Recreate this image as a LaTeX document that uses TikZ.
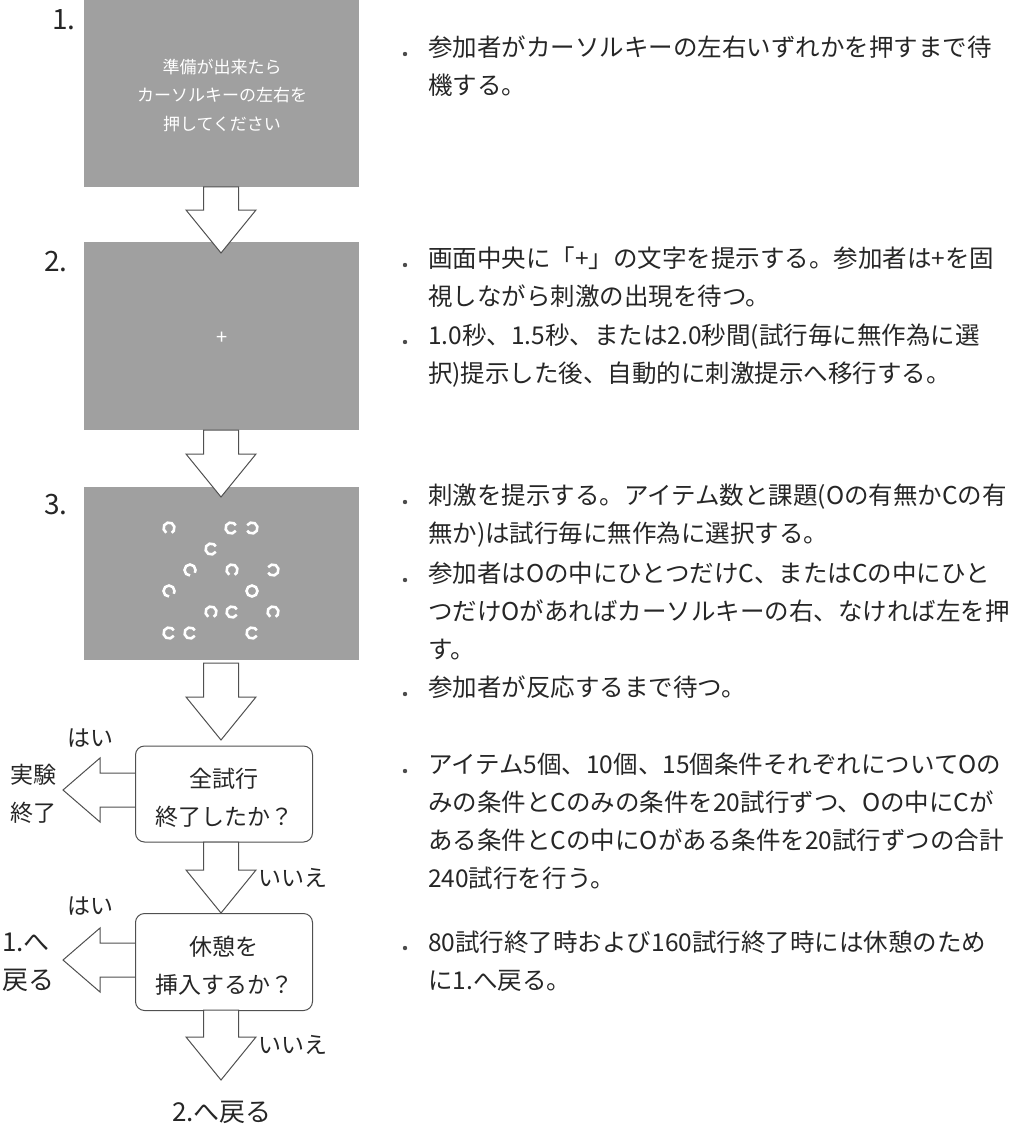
\documentclass[tikz,border=0pt]{standalone}
\usepackage{fontspec}
\setmainfont{Noto Sans CJK JP}
\definecolor{panel}{HTML}{A0A0A0}
\definecolor{edge}{HTML}{505050}
\def\dArrow#1#2#3{\filldraw[arr] (#1-17.5,#2)--(#1+17.5,#2)--(#1+17.5,#3-43)--(#1+35,#3-43)--(#1,#3)--(#1-35,#3-43)--(#1-17.5,#3-43)--cycle;}
\def\lArrow#1#2#3{\filldraw[arr] (#2,#1-17)--(#2,#1+17)--(#3+37,#1+17)--(#3+37,#1+32)--(#3,#1)--(#3+37,#1-32)--(#3+37,#1-17)--cycle;}
\def\ring#1#2#3{\draw[ringst] ($(#1,#2)+(#3+30:5.5)$) arc[start angle=#3+30, end angle=#3+330, radius=5.5];}
\def\oring#1#2{\draw[ringst] (#1,#2) circle[radius=5.5];}
\usetikzlibrary{calc}
\begin{document}
\begin{tikzpicture}[x=1pt,y=-1pt,
  arr/.style={fill=white,draw=edge,line width=1pt,line join=miter},
  panelst/.style={fill=panel,draw=none},
  ringst/.style={draw=white,line width=2.6pt},
  num/.style={font=\fontsize{28}{30}\selectfont,text=black!85},
  ptxt/.style={text=white,font=\fontsize{17}{28.5}\selectfont,align=center},
  dbox/.style={draw=edge,line width=1pt,rounded corners=9pt,fill=white},
  lab/.style={font=\fontsize{23}{38}\selectfont,text=black!85,align=center},
  desc/.style={anchor=north west,font=\fontsize{24.5}{38}\selectfont,text=black!85,align=left,inner sep=0pt}]
\useasboundingbox (0,0) rectangle (1024,1126);
% panels
\fill[panelst] (84,0) rectangle (359,187);
\fill[panelst] (84,242) rectangle (359,430);
\fill[panelst] (84,487) rectangle (359,660);
\node[num] (n1) at (64,20) {1.};
\node[num] (n2) at (56,262) {2.};
\node[num] (n3) at (56,505) {3.};
\node[ptxt] (p1) at (222,95) {準備が出来たら\\カーソルキーの左右を\\押してください};
\node[text=white,font=\fontsize{20}{24}\selectfont] (plus) at (222,338) {+};
% stimuli
\ring{169}{528}{90}
\ring{231}{528}{0}
\ring{252}{528}{180}
\ring{211}{549}{0}
\ring{190}{570}{60}
\ring{232}{570}{90}
\ring{273}{570}{180}
\ring{169}{591}{60}
\oring{252}{591}
\ring{211}{612}{90}
\ring{232}{612}{0}
\ring{273}{612}{90}
\ring{169}{633}{0}
\ring{190}{633}{0}
\ring{252}{633}{0}
% arrows between panels
\dArrow{221}{187}{253}
\dArrow{221}{430}{497}
\dArrow{221}{663}{740}
% decision boxes
\lArrow{790}{142}{63}
\lArrow{960}{142}{63}
\node[dbox,minimum width=177pt,minimum height=96pt] (b1) at (224,794) {};
\node[lab] (b1t) at (224,798) {全試行\\終了したか？};
\node[dbox,minimum width=177pt,minimum height=97pt] (b2) at (224,962) {};
\node[lab] (b2t) at (224,966) {休憩を\\挿入するか？};
\dArrow{221}{842}{913}
\dArrow{221}{1010}{1080}
\node[lab] (y1) at (90,738) {はい};
\node[lab] (e1) at (33,794) {実験\\終了};
\node[lab] (no1) at (293,878) {いいえ};
\node[lab] (y2) at (90,906) {はい};
\node[lab,align=left,font=\fontsize{26}{38}\selectfont] (r1) at (28,962) {1.へ\\戻る};
\node[lab] (no2) at (293,1045) {いいえ};
\node[lab,font=\fontsize{26}{30}\selectfont] (end) at (222,1112) {2.へ戻る};
% descriptions
\foreach \yy in {54,265,342,502,580,694,771,948}{\fill[black!70] (405,\yy) circle[radius=2.2];}
\node[desc] (d1) at (428,36) {参加者がカーソルキーの左右いずれかを押すまで待\\機する。};
\node[desc] (d2) at (428,247) {画面中央に「+」の文字を提示する。参加者は+を固\\視しながら刺激の出現を待つ。};
\node[desc] (d3) at (428,324) {1.0秒、1.5秒、または2.0秒間(試行毎に無作為に選\\択)提示した後、自動的に刺激提示へ移行する。};
\node[desc] (d4) at (428,484) {刺激を提示する。アイテム数と課題(Oの有無かCの有\\無か)は試行毎に無作為に選択する。};
\node[desc] (d5) at (428,562) {参加者はOの中にひとつだけC、またはCの中にひと\\つだけOがあればカーソルキーの右、なければ左を押\\す。};
\node[desc] (d6) at (428,676) {参加者が反応するまで待つ。};
\node[desc] (d7) at (428,753) {アイテム5個、10個、15個条件それぞれについてOの\\みの条件とCのみの条件を20試行ずつ、Oの中にCが\\ある条件とCの中にOがある条件を20試行ずつの合計\\240試行を行う。};
\node[desc] (d8) at (428,930) {80試行終了時および160試行終了時には休憩のため\\に1.へ戻る。};
\end{tikzpicture}
\end{document}
